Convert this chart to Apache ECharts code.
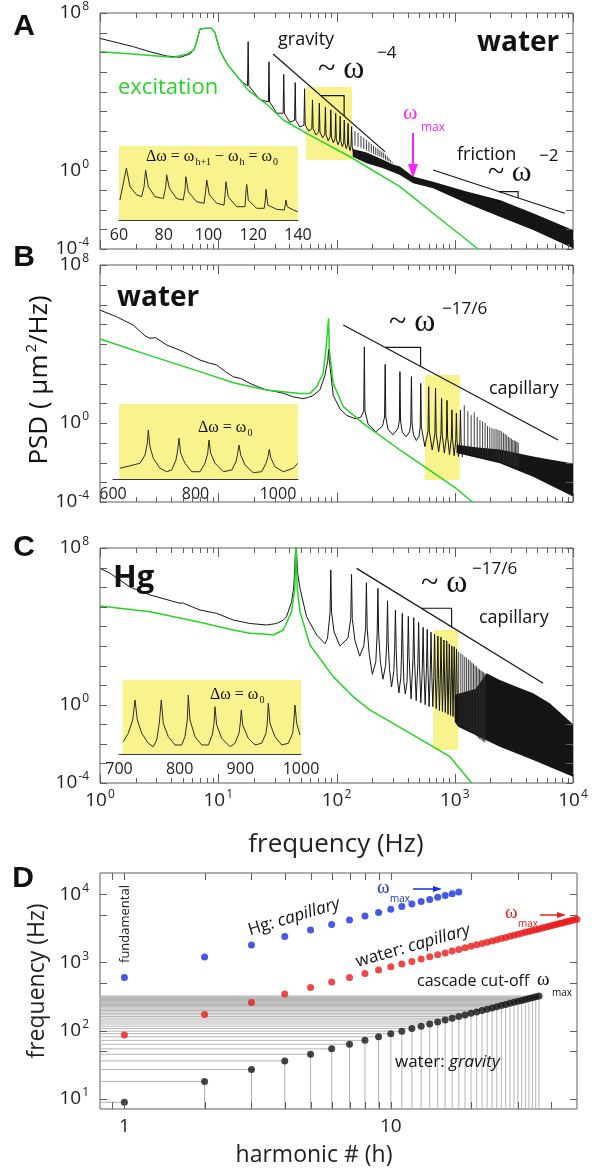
<!DOCTYPE html>
<html><head><meta charset="utf-8">
<script src="https://cdn.jsdelivr.net/npm/echarts@6/dist/echarts.min.js"></script>
<style>html,body{margin:0;padding:0;background:#fff}#c{width:601px;height:1171px}</style>
</head><body><div id="c"></div>
<script>
// ================= DATA =================
// Panel A (water, gravity waves)  [frequency Hz, PSD]
const A_excitation = [[1,1.07e6],[2,7.9e5],[3.63,6.0e5],[4.17,5.6e5],[5.4,7.9e5],[6.2,1.3e6],[6.56,3.5e6],[7.0,1.5e7],[7.7,1.66e7],[8.8,1.66e7],[9.4,9.4e6],[10.3,1.3e6],[11.8,2.7e5],[13.4,1.05e5],[17.9,1.2e4],[25.6,2350],[35.5,363],[55.9,76],[130,4.9],[344,0.148],[656,6.6e-3],[1578,1e-4]];
const A_curve = [[1,5.1e6],[1.91,1.95e6],[2.65,1.07e6],[3.66,6.5e5],[4.75,5.6e5],[5.77,8.3e5],[6.2,1.3e6],[6.56,3.5e6],[7.0,1.5e7],[7.7,1.66e7],[8.8,1.66e7],[9.4,9.4e6],[10.3,1.3e6],[11.8,2.7e5],[13.4,1.05e5],[16,3e4],[22.4,4e3],[31.3,800],[40.3,280],[49.2,160],[58.2,100],[67.1,63],[76.1,45],[85,32],[94,25],[103,20],[112,16],[121,12.6],[130,10],[139,8]];
// harmonic peaks: [frequency, peak PSD, foot PSD]
const A_peaks = [[17.9,3.5e6,2e4],[26.85,3.3e5,3e3],[35.8,7.6e4,800],[44.75,2.9e4,350],[53.7,1.4e4,200],[62.65,3.8e3,130],[71.6,2.6e3,90],[80.55,1.6e3,65],[89.5,1.2e3,50],[98.45,800,40],[107.4,575,32],[116.35,363,25],[125.3,245,20],[134.25,166,16]];
// dense harmonics: [frequency, top, bottom]
const A_comb = [[143.2,100,18],[152.2,80,16],[161.1,56,14],[170.1,45,12],[179,35,10],[188,28,9],[196.9,22,8],[205.9,18,7],[214.8,15,6],[223.8,12.6,5.5],[232.7,10.5,5],[241.7,9.1,4.5],[250.6,7.9,4],[259.6,6.3,3.5],[268.5,5.2,3.1],[277.5,4.2,2.8],[286.4,3.3,2.5],[295.4,2.6,2.2]];
const A_noiseTop = [[137,12],[180,8],[248,3.5],[300,2],[344,1.55],[445,0.48],[656,0.26],[1259,0.083],[2405,0.031],[4600,0.0066],[10000,0.00093]];
const A_noiseBottom = [[137,4.9],[180,2.3],[248,1.26],[344,0.575],[445,0.22],[656,0.123],[1259,0.021],[2405,0.0044],[4600,0.00093],[10000,0.00011]];
const A_gravityLine = [[29.1,8.3e5],[256.6,8.9]];
const A_gravityTri = [[73.6,6300],[116,6300],[116,580]];
const A_frictionLine = [[656,1.04],[8520,0.0066]];
const A_frictionTri = [[2360,0.083],[3436,0.083],[3436,0.0395]];
const A_zoomBox = [55.1,3.4,135,17400];
// inset A  [frequency Hz, relative level]
const A_inset = [[60.4,27],[63.3,70],[64.9,45],[67.9,34],[70.1,31.5],[71.2,45],[71.9,67.5],[73.1,45],[76.1,31.5],[79.8,29],[80.9,45],[81.3,61],[82.5,43],[85.8,29],[88.7,27],[89.5,40.5],[89.9,58.5],[91.0,38],[94.7,24.7],[98.0,22.5],[98.7,38],[99.2,54],[100.4,34],[103.7,22.5],[106.9,20],[107.4,34],[107.8,51.8],[108.8,31.5],[112.6,18],[116.3,18],[116.8,40.5],[117.1,48],[117.8,27],[121.5,15.8],[124.9,15.8],[125.4,27],[125.7,41.5],[126.5,20],[130.5,14.5],[133.9,13.5],[134.3,20],[134.6,27],[135.2,18],[137.9,13.5],[139.9,11.2]];

// Panel B (water, capillary waves)
const B_excitation = [[1,1.78e4],[2.65,2570],[7.0,398],[13.4,110],[25.6,47],[49,31.6],[59.6,31.6],[68,69],[77.2,331],[81.3,5000],[85.7,2e5],[86.9,5000],[93.8,102],[114,6.8],[168,0.95],[344,0.043],[1035,4.7e-4],[1343,1.26e-4],[1420,1e-4]];
const B_curve = [[1,5.2e5],[1.38,2.4e5],[1.91,9.1e4],[2.4,2.6e4],[2.65,1.95e4],[2.95,2.1e4],[3.66,8.9e3],[5.06,4.1e3],[6.2,2.2e3],[7.0,1.55e3],[8.3,1.1e3],[9.7,870],[11.5,400],[13.4,219],[15.5,180],[18.5,102],[21.5,70],[25.6,47],[30,40],[35.5,32],[43,21],[52.4,17],[58,20],[63.5,25],[72.4,47],[79.8,263],[84.5,1500],[85.7,5600],[87,1500],[93.8,25],[107,5.2],[121.6,2.45],[143,1.66],[160,1.9],[185,0.9],[215,0.36],[245,0.7],[272,0.5],[300,0.25],[330,0.5],[360,0.35],[387,0.2],[415,0.35],[448,0.25],[473,0.13],[500,0.22],[559,0.063],[645,0.043],[731,0.035],[817,0.03],[903,0.025],[989,0.022],[1075,0.02],[1160,0.018]];
const B_peaks = [[172,7200,4],[258,930,2],[344,400,1.26],[430,224,1],[516,102,0.63],[602,69,0.4],[688,58,0.3],[774,18,0.25],[860,14,0.2],[946,4.6,0.16],[1032,3.2,0.14],[1118,4.6,0.12]];
const B_comb = [[1204,8,0.03],[1290,4,0.028],[1376,2.5,0.026],[1462,3.5,0.024],[1548,2,0.022],[1634,1.4,0.02],[1720,1.2,0.019],[1806,1.0,0.018],[1892,0.7,0.017],[1978,0.6,0.016],[2064,0.55,0.015],[2150,0.5,0.014],[2236,0.5,0.013],[2322,0.45,0.012],[2408,0.42,0.011],[2494,0.38,0.01],[2580,0.32,0.01],[2666,0.28,0.009],[2752,0.24,0.009],[2838,0.2,0.008],[2924,0.18,0.008],[3010,0.16,0.007],[3096,0.14,0.007],[3182,0.13,0.006],[3268,0.12,0.006],[3354,0.11,0.006],[3440,0.1,0.005]];
const B_noiseTop = [[1035,0.08],[1500,0.06],[2405,0.045],[3327,0.03],[4600,0.02],[6365,0.014],[10000,0.009]];
const B_noiseBottom = [[1035,0.03],[1500,0.018],[2405,0.0091],[4600,0.0019],[10000,0.00019]];
const B_capLine = [[114,9.1e4],[7480,0.138]];
const B_capTri = [[257,6760],[514,6760],[514,735]];
const B_zoomBox = [559,0.0013,1104,269];
const B_inset = [[617,14.3],[665.5,21],[677.6,32],[683.2,47.6],[685.6,65.3],[689.7,43],[697.7,27.6],[713.9,14.3],[730.2,9.7],[742.3,12],[752.7,25.3],[756.8,38.7],[760,54.3],[764.1,34.3],[774.5,21],[790.8,9.7],[810.9,9.7],[823,21],[829.6,34.3],[832.7,52],[836.8,34.3],[847.3,21],[867.4,9.7],[887.8,12],[898.2,23],[902.3,34.3],[905.5,45.3],[909.6,32],[920,18.7],[940.1,8.4],[960.5,9.7],[970.9,21],[975.8,29.7],[978.9,39.6],[983,27.6],[992.7,16.4],[1012.8,9.7],[1037.1,14.3],[1047.8,21]];

// Panel C (mercury, capillary waves)
const C_excitation = [[1,1.1e5],[2.65,5.6e4],[7,1.6e4],[13.4,6500],[18.5,4400],[25.6,3900],[29.2,3600],[35.5,6500],[41.7,5.6e4],[44.5,1e6],[45.4,2e8],[46.5,1e6],[49.1,5.6e4],[59.6,1120],[93.8,27],[138,2.6],[191,0.54],[417,0.035],[910,0.0022],[1387,1e-4]];
const C_curve = [[1,9.1e6],[1.22,5.1e6],[1.8,1e6],[2.65,4e5],[4.0,2e5],[4.74,1.5e5],[5.0,1.6e5],[5.3,1.35e5],[7,6.8e4],[9.7,4.6e4],[13.4,2.1e4],[18.5,1.4e4],[25.6,1.17e4],[31.2,1.4e4],[35.5,2.1e4],[37.8,3.1e4],[41.7,1.8e5],[43.5,1e6],[45.4,2e8],[47,5e6],[49.1,8.7e5],[55.8,3.1e4],[68,3630],[80,1300],[84,2500],[95.5,5e3],[107,1000],[125,2.5e3],[143,2e3],[157,300],[170,1e3],[189,400],[201,35],[215,150],[235,150],[247,20],[260,100],[281,60],[292,8],[305,50],[326,25],[337,4],[350,25],[371,15],[382,3.5],[395,15],[427,2],[472,1.6],[517,1.26],[562,1],[607,0.8],[652,0.8],[697,0.63],[742,0.5],[787,0.45],[832,0.4],[877,0.32],[922,0.28],[967,0.25],[1012,0.2],[1060,0.13]];
const C_peaks = [[89.5,7.6e6,5e4],[134,4.5e6,2.5e4],[179,1.7e6,8e3],[224,8.7e5,4e3],[270,2e5,1.26e3],[315,6.8e4,630],[360,4.6e4,400],[405,3.2e4,250],[450,2.8e4,200],[495,1.6e4,126],[540,8.9e3,80],[585,7e3,63],[630,5e3,40],[675,4e3,25],[720,3.2e3,20],[765,2.8e3,16],[810,2e3,10],[855,1.8e3,8],[900,1.26e3,6.3],[945,1e3,5],[990,900,4],[1035,700,3.2]];
const C_comb = [[1080,500,0.1],[1125,417,0.09],[1170,355,0.08],[1215,282,0.07],[1260,251,0.06],[1305,200,0.05],[1350,178,0.045],[1395,141,0.04],[1440,126,0.035],[1485,100,0.03],[1530,89,0.025],[1575,71,0.02],[1620,63,0.018],[1665,56,0.016],[1710,50,0.014],[1755,45,0.013],[1800,40,0.012]];
const C_noiseTop = [[1000,3.2],[1500,6.3],[1858,40],[2405,18],[3327,8.3],[4600,3.8],[6365,1.17],[10000,0.1]];
const C_noiseBottom = [[1000,0.13],[1069,0.074],[2405,0.0071],[4600,0.0015],[10000,0.00021]];
const C_capLine = [[148,9.1e6],[5585,12.3]];
const C_capTri = [[522,83600],[940,83600],[940,9300]];
const C_zoomBox = [658,0.0048,1069,6460];
const C_inset = [[707.1,16.6],[715.3,28],[722.6,46],[726.4,73],[730.2,46],[737.4,28],[748.3,14.5],[756.5,9.9],[762.1,18.9],[766.4,41.5],[769.7,73],[773,41.5],[781.3,23.4],[792.3,12.2],[803.3,12.2],[808.8,23.4],[812.6,46],[814.2,79.7],[817,46],[825.3,23.4],[836.3,12.2],[847.2,12.2],[853.8,25.7],[856.6,41.5],[858.2,63.9],[861,39.2],[869.3,21.2],[883,9.9],[891.2,14.5],[897.8,28],[899.9,41.5],[901.6,59.5],[903.9,39.2],[913.1,21.2],[924.2,12.2],[935.2,14.5],[942.3,28],[944.4,41.5],[946.1,68.5],[948.9,41.5],[957.1,23.4],[968.2,12.2],[979.1,14.5],[986.3,28],[988.4,46],[990.1,66.2],[992.9,41.5],[998.3,25.7]];

// Panel D : harmonic number vs frequency
const D_harmonic = [1,2,3,4,5,6,7,8,9,10,11,12,13,14,15,16,17,18,19,20,21,22,23,24,25,26,27,28,29,30,31,32,33,34,35,36,37,38,39,40,41,42,43,44,45,46,47,48,49,50];
const D_waterGravity = [8.9,18,27,36,45,54,63,72,81,90,98,107,116,125,134,143,152,161,170,179,188,197,206,215,224,233,242,251,260,269,277,286,295,304,313,322];
const D_waterCapillary = [86,172,258,344,430,516,602,688,774,860,946,1032,1118,1204,1290,1376,1462,1548,1634,1720,1806,1892,1978,2064,2150,2236,2322,2408,2494,2580,2666,2752,2838,2924,3010,3096,3182,3268,3354,3440,3526,3612,3698,3784,3870,3956,4042,4128,4214,4300];
const D_HgCapillary = [598,1196,1794,2392,2990,3588,4186,4784,5382,5980,6578,7176,7774,8372,8970,9568,10166,10764];

// axis ticks
const PSD_X_MAJOR = [1,10,100,1000,10000];
const PSD_X_MINOR = [2,3,4,5,6,7,8,9,20,30,40,50,60,70,80,90,200,300,400,500,600,700,800,900,2000,3000,4000,5000,6000,7000,8000,9000];
const PSD_Y_TICKS = [1e-4,1e-3,1e-2,1e-1,1,10,100,1e3,1e4,1e5,1e6,1e7,1e8];
const D_X_MAJOR = [1,10];
const D_X_MINOR = [0.9,2,3,4,5,6,7,8,9,20,30,40];
const D_Y_TICKS = [10,50,100,500,1000,5000,10000];

// ================= STYLE =================
const FONT = "'Open Sans','Noto Sans',sans-serif";
const SERIF = "'Liberation Serif','DejaVu Serif',serif";
const AX = '#5e5e5e';
const GREEN = '#27d327';
const BLACK = '#151515';
const YELLOW = '#f8f38c';
const BLUE = '#1530e0';
const RED = '#e81c1c';
const MAGENTA = '#ff22ff';

const grids = [
  {left:100, top:13, width:473, height:236},
  {left:100, top:265, width:473, height:237},
  {left:100, top:548, width:473, height:235},
  {left:100, top:873, width:477, height:236},
  {left:119, top:146, width:179, height:74},
  {left:113, top:404, width:185, height:75},
  {left:119, top:680, width:182, height:74}
].map((g,i) => Object.assign({show: i < 4, borderColor: AX, borderWidth: 1, backgroundColor: 'transparent'}, g));

const powRich = {
  b: {fontSize: 19, fontFamily: FONT, color: '#222', lineHeight: 20},
  s: {fontSize: 12, fontFamily: FONT, color: '#222', lineHeight: 12, padding: [0,0,12,1]}
};
function isDecade(v) { const l = Math.log10(v); return Math.abs(l - Math.round(l)) < 1e-6; }
function powText(v) { const e = Math.round(Math.log10(v)); return '{b|10}{s|' + (e < 0 ? '-' + (-e) : e) + '}'; }

const xAxes = [], yAxes = [];
for (let i = 0; i < 3; i++) {
  xAxes.push({type:'log', logBase:10, gridIndex:i, min:1, max:10000, axisLine:{show:false}, axisTick:{show:false}, splitLine:{show:false},
    axisLabel:{show: i === 2, margin: 8, formatter: v => isDecade(v) ? powText(v) : '', rich: powRich, showMinLabel:true, showMaxLabel:true}});
  yAxes.push({type:'log', logBase:10, gridIndex:i, min:1e-4, max:1e8, splitNumber:12, axisLine:{show:false}, axisTick:{show:false}, splitLine:{show:false},
    axisLabel:{margin: 11, formatter: v => (isDecade(v) && Math.round(Math.log10(v)) % 4 === 0) ? powText(v) : '', rich: powRich, showMinLabel:true, showMaxLabel:true}});
}
xAxes.push({type:'log', logBase:10, gridIndex:3, min:0.81, max:50, axisLine:{show:false}, axisTick:{show:false}, splitLine:{show:false},
  axisLabel:{margin: 8, fontSize: 19, fontFamily: FONT, color:'#222', formatter: v => isDecade(v) ? String(Math.round(v)) : '', showMinLabel:true, showMaxLabel:true}});
yAxes.push({type:'log', logBase:10, gridIndex:3, min:7.1, max:20400, axisLine:{show:false}, axisTick:{show:false}, splitLine:{show:false},
  axisLabel:{margin: 11, formatter: v => isDecade(v) ? powText(v) : '', rich: powRich, showMinLabel:true, showMaxLabel:true}});
const insetX = [[60,140,20],[600,1048.5,200],[700,1000,100]];
insetX.forEach((r, k) => {
  xAxes.push({type:'value', gridIndex:4+k, min:r[0], max:r[1], interval:r[2], splitLine:{show:false}, axisTick:{show:false},
    axisLine:{show:true, lineStyle:{color:'#3a3a3a', width:1}},
    axisLabel:{margin: 7, fontSize: 16, fontFamily: FONT, color:'#222', formatter: v => (v % r[2] === 0 ? String(v) : ''), showMaxLabel:true}});
  yAxes.push({type:'value', gridIndex:4+k, min:0, max:100, show:false});
});

// ================= SERIES HELPERS =================
function lineS(gi, data, color, width, z) {
  return {type:'line', xAxisIndex:gi, yAxisIndex:gi, data: data, showSymbol:false, symbol:'none', silent:true, animation:false,
    lineStyle:{color: color, width: width}, z: z || 3};
}
function buildSpectrum(curve, peaks, w) {
  const pts = curve.map(p => [p[0], p[1]]);
  peaks.forEach(p => { pts.push([p[0] / (1 + w), p[2]], [p[0], p[1]], [p[0] * (1 + w), p[2]]); });
  pts.sort((a, b) => a[0] - b[0]);
  return pts;
}
function bandS(gi, top, bot, color) {
  return {type:'custom', xAxisIndex:gi, yAxisIndex:gi, clip:true, silent:true, z:3, data: top,
    renderItem: function (params, api) {
      if (params.dataIndex !== 0) return null;
      const pts = top.map(p => api.coord(p)).concat(bot.slice().reverse().map(p => api.coord(p)));
      return {type:'polygon', shape:{points: pts}, style:{fill: color}};
    }};
}
function combS(gi, comb, color) {
  return {type:'custom', xAxisIndex:gi, yAxisIndex:gi, clip:true, silent:true, z:3, data: comb,
    renderItem: function (params, api) {
      const t = api.coord([api.value(0), api.value(1)]);
      const b = api.coord([api.value(0), api.value(2)]);
      return {type:'line', shape:{x1:t[0], y1:t[1], x2:b[0], y2:b[1]}, style:{stroke: color, lineWidth: 0.9}};
    }};
}
function rectS(gi, box, color) {
  return {type:'custom', xAxisIndex:gi, yAxisIndex:gi, clip:true, silent:true, z:1, data: [box],
    renderItem: function (params, api) {
      const a = api.coord([api.value(0), api.value(1)]);
      const b = api.coord([api.value(2), api.value(3)]);
      return {type:'rect', shape:{x: Math.min(a[0], b[0]), y: Math.min(a[1], b[1]), width: Math.abs(b[0] - a[0]), height: Math.abs(b[1] - a[1])}, style:{fill: color}};
    }};
}
function tickS(gi, axis, vals, len, other) {
  return {type:'custom', xAxisIndex:gi, yAxisIndex:gi, silent:true, z:6, clip:false,
    data: vals.map(v => axis === 'x' ? [v, other] : [other, v]),
    renderItem: function (params, api) {
      const cs = params.coordSys;
      const p = api.coord([api.value(0), api.value(1)]);
      if (axis === 'x') {
        const x = Math.round(p[0]) + 0.5, y0 = cs.y, y1 = cs.y + cs.height;
        return {type:'group', children:[
          {type:'line', shape:{x1:x, y1:y0, x2:x, y2:y0 + len}, style:{stroke: AX, lineWidth: 1}},
          {type:'line', shape:{x1:x, y1:y1, x2:x, y2:y1 - len}, style:{stroke: AX, lineWidth: 1}}]};
      }
      const y = Math.round(p[1]) + 0.5, x0 = cs.x, x1 = cs.x + cs.width;
      return {type:'group', children:[
        {type:'line', shape:{x1:x0, y1:y, x2:x0 + len, y2:y}, style:{stroke: AX, lineWidth: 1}},
        {type:'line', shape:{x1:x1, y1:y, x2:x1 - len, y2:y}, style:{stroke: AX, lineWidth: 1}}]};
    }};
}
function stemS(gi, pts) {
  return {type:'custom', xAxisIndex:gi, yAxisIndex:gi, silent:true, z:2, clip:true, data: pts,
    renderItem: function (params, api) {
      const cs = params.coordSys;
      const p = api.coord([api.value(0), api.value(1)]);
      return {type:'group', children:[
        {type:'line', shape:{x1: cs.x, y1: p[1], x2: p[0], y2: p[1]}, style:{stroke:'#b4b4b4', lineWidth: 1}},
        {type:'line', shape:{x1: p[0], y1: p[1], x2: p[0], y2: cs.y + cs.height}, style:{stroke:'#b4b4b4', lineWidth: 1}}]};
    }};
}
function scatterS(gi, xs, ys, color) {
  return {type:'scatter', xAxisIndex:gi, yAxisIndex:gi, silent:true, z:5, symbolSize: 7,
    itemStyle:{color: color}, data: ys.map((f, i) => [xs[i], f])};
}

const series = [];
// panel A
series.push(rectS(0, A_zoomBox, YELLOW));
series.push(bandS(0, A_noiseTop, A_noiseBottom, BLACK));
series.push(combS(0, A_comb, '#2a2a2a'));
series.push(lineS(0, buildSpectrum(A_curve, A_peaks, 0.012), BLACK, 1, 3));
series.push(lineS(0, A_excitation, GREEN, 1.5, 4));
series.push(lineS(0, A_gravityLine, BLACK, 1.2, 4));
series.push(lineS(0, A_gravityTri, BLACK, 1.2, 4));
series.push(lineS(0, A_frictionLine, BLACK, 1.2, 4));
series.push(lineS(0, A_frictionTri, BLACK, 1.2, 4));
// panel B
series.push(rectS(1, B_zoomBox, YELLOW));
series.push(bandS(1, B_noiseTop, B_noiseBottom, BLACK));
series.push(combS(1, B_comb, '#2a2a2a'));
series.push(lineS(1, buildSpectrum(B_curve, B_peaks, 0.012), BLACK, 1, 3));
series.push(lineS(1, B_excitation, GREEN, 1.5, 4));
series.push(lineS(1, B_capLine, BLACK, 1.2, 4));
series.push(lineS(1, B_capTri, BLACK, 1.2, 4));
// panel C
series.push(rectS(2, C_zoomBox, YELLOW));
series.push(bandS(2, C_noiseTop, C_noiseBottom, BLACK));
series.push(combS(2, C_comb, '#2a2a2a'));
series.push(lineS(2, buildSpectrum(C_curve, C_peaks, 0.015), BLACK, 1, 3));
series.push(lineS(2, C_excitation, GREEN, 1.5, 4));
series.push(lineS(2, C_capLine, BLACK, 1.2, 4));
series.push(lineS(2, C_capTri, BLACK, 1.2, 4));
// ticks
for (let g = 0; g < 3; g++) {
  series.push(tickS(g, 'x', PSD_X_MAJOR, 9, 1));
  series.push(tickS(g, 'x', PSD_X_MINOR, 5, 1));
  series.push(tickS(g, 'y', PSD_Y_TICKS, 7, 1));
}
series.push(tickS(3, 'x', D_X_MAJOR, 7, 10));
series.push(tickS(3, 'x', D_X_MINOR, 7, 10));
series.push(tickS(3, 'y', D_Y_TICKS, 7, 1));
// panel D
series.push(stemS(3, D_waterGravity.map((f, i) => [D_harmonic[i], f])));
series.push(scatterS(3, D_harmonic, D_waterGravity, BLACK));
series.push(scatterS(3, D_harmonic, D_waterCapillary, RED));
series.push(scatterS(3, D_harmonic, D_HgCapillary, BLUE));
// insets
series.push(rectS(4, [60, 0, 140, 100], YELLOW));
series.push(lineS(4, A_inset, '#2e2e2e', 1, 3));
series.push(rectS(5, [614.5, 0, 1048.5, 100], YELLOW));
series.push(lineS(5, B_inset, '#2e2e2e', 1, 3));
series.push(rectS(6, [706, 0, 1000, 100], YELLOW));
series.push(lineS(6, C_inset, '#2e2e2e', 1, 3));

// ================= ANNOTATIONS =================
function txt(x, y, text, o) {
  o = o || {};
  return {type:'text', x: x, y: y, rotation: o.rot || 0, silent: true, z: 100,
    style: {text: text, fill: o.color || '#111', fontSize: o.size || 16, fontFamily: o.family || FONT,
      fontWeight: o.weight || 'normal', fontStyle: o.italic ? 'italic' : 'normal',
      align: o.align || 'left', verticalAlign: o.va || 'middle', rich: o.rich}};
}
function arrow(x1, y1, x2, y2, color, w, head, half) {
  const a = Math.atan2(y2 - y1, x2 - x1);
  const hx = x2 - head * Math.cos(a), hy = y2 - head * Math.sin(a);
  const px = Math.sin(a) * half, py = -Math.cos(a) * half;
  return {type:'group', silent:true, z:100, children:[
    {type:'line', shape:{x1:x1, y1:y1, x2:hx, y2:hy}, style:{stroke: color, lineWidth: w}},
    {type:'polygon', shape:{points:[[x2, y2], [hx + px, hy + py], [hx - px, hy - py]]}, style:{fill: color}}]};
}
function subRich(color, size, subSize, fam) {
  return {
    n: {fontFamily: fam || SERIF, fontSize: size, color: color, lineHeight: size + 2},
    d: {fontFamily: fam || SERIF, fontSize: subSize, color: color, lineHeight: subSize, padding: [Math.round(size * 0.62), 0, 0, 1]},
    i: {fontFamily: FONT, fontSize: size, color: color, fontStyle: 'italic', lineHeight: size + 2},
    s: {fontFamily: FONT, fontSize: size, color: color, lineHeight: size + 2}
  };
}
const LETTER = "'Liberation Sans',Arial,sans-serif";
const graphic = [
  txt(24, 27, 'A', {size: 30, weight: 'bold', family: LETTER, align: 'center'}),
  txt(24, 258, 'B', {size: 30, weight: 'bold', family: LETTER, align: 'center'}),
  txt(24, 548, 'C', {size: 30, weight: 'bold', family: LETTER, align: 'center'}),
  txt(23, 879, 'D', {size: 30, weight: 'bold', family: LETTER, align: 'center'}),
  // panel A
  txt(278, 40, 'gravity', {size: 18}),
  txt(318, 70, '~ ω', {size: 32, family: SERIF}),
  txt(377, 53, '−4', {size: 17}),
  txt(477, 43, 'water', {size: 28, weight: 'bold'}),
  txt(118, 88, 'excitation', {size: 22, color: GREEN}),
  txt(403, 113, 'ω', {size: 22, family: SERIF, color: MAGENTA}),
  txt(421, 128, 'max', {size: 12, color: MAGENTA}),
  arrow(413, 133, 413, 178, MAGENTA, 2, 14, 5),
  txt(457, 155, 'friction', {size: 18}),
  txt(539, 156, '−2', {size: 17}),
  txt(488, 173, '~ ω', {size: 30, family: SERIF}),
  txt(146, 157, '{n|Δω = ω}{d|h+1}{n| − ω}{d|h}{n| = ω}{d|0}', {rich: subRich('#222', 16, 10)}),
  arrow(121, 162, 143, 162, '#222', 1, 7, 2.5),
  arrow(183, 162, 167, 162, '#222', 1, 7, 2.5),
  // panel B
  txt(117, 298, 'water', {size: 28, weight: 'bold'}),
  txt(389, 323, '~ ω', {size: 32, family: SERIF}),
  txt(442, 309, '−17/6', {size: 17}),
  txt(489, 389, 'capillary', {size: 18}),
  txt(198, 428, '{n|Δω = ω}{d|0}', {rich: subRich('#222', 16, 10)}),
  arrow(127, 429, 147, 429, '#222', 1, 7, 2.5),
  arrow(195, 429, 180, 429, '#222', 1, 7, 2.5),
  txt(40, 380, '{s|PSD ( μm}{p|2}{s|/Hz)}', {rot: Math.PI / 2, align: 'center', rich: {
    s: {fontFamily: FONT, fontSize: 26, color: '#222', lineHeight: 28},
    p: {fontFamily: FONT, fontSize: 15, color: '#222', lineHeight: 15, padding: [0, 0, 16, 2]}}}),
  // panel C
  txt(113, 578, 'Hg', {size: 31, weight: 'bold'}),
  txt(421, 584, '~ ω', {size: 32, family: SERIF}),
  txt(472, 569, '−17/6', {size: 17}),
  txt(479, 618, 'capillary', {size: 18}),
  txt(210, 695, '{n|Δω = ω}{d|0}', {rich: subRich('#222', 16, 10)}),
  arrow(140, 695, 160, 695, '#222', 1, 7, 2.5),
  arrow(207, 695, 188, 695, '#222', 1, 7, 2.5),
  txt(336, 845, 'frequency (Hz)', {size: 26, align: 'center', color: '#222'}),
  // panel D
  txt(125, 924, 'fundamental', {size: 13, rot: Math.PI / 2, align: 'center', color: '#222'}),
  txt(294, 917, '{s|Hg: }{i|capillary}', {align: 'center', rot: 0.29, rich: subRich(BLUE, 17, 10)}),
  txt(377, 888, 'ω', {size: 19, family: SERIF, color: BLUE}),
  txt(390, 899, 'max', {size: 10, color: BLUE}),
  arrow(413, 889, 442, 889, BLUE, 1.5, 9, 3),
  txt(413, 946, '{s|water: }{i|capillary}', {align: 'center', rot: 0.28, rich: subRich(RED, 17, 10)}),
  txt(505, 913, 'ω', {size: 19, family: SERIF, color: RED}),
  txt(518, 924, 'max', {size: 10, color: RED}),
  arrow(540, 915, 566, 915, RED, 1.5, 9, 3),
  txt(417, 981, 'cascade cut-off', {size: 16}),
  txt(537, 980, 'ω', {size: 19, family: SERIF}),
  txt(552, 993, 'max', {size: 10}),
  txt(395, 1062, '{s|water: }{i|gravity}', {rich: subRich('#111', 17, 10)}),
  txt(314, 1155, 'harmonic # (h)', {size: 23, align: 'center', color: '#222'}),
  txt(37, 981, 'frequency (Hz)', {size: 23, rot: Math.PI / 2, align: 'center', color: '#222'})
];

const chart = echarts.init(document.getElementById('c'), null, {renderer: 'canvas'});
chart.setOption({
  animation: false,
  backgroundColor: '#fff',
  grid: grids,
  xAxis: xAxes,
  yAxis: yAxes,
  series: series,
  graphic: graphic
});
</script></body></html>
